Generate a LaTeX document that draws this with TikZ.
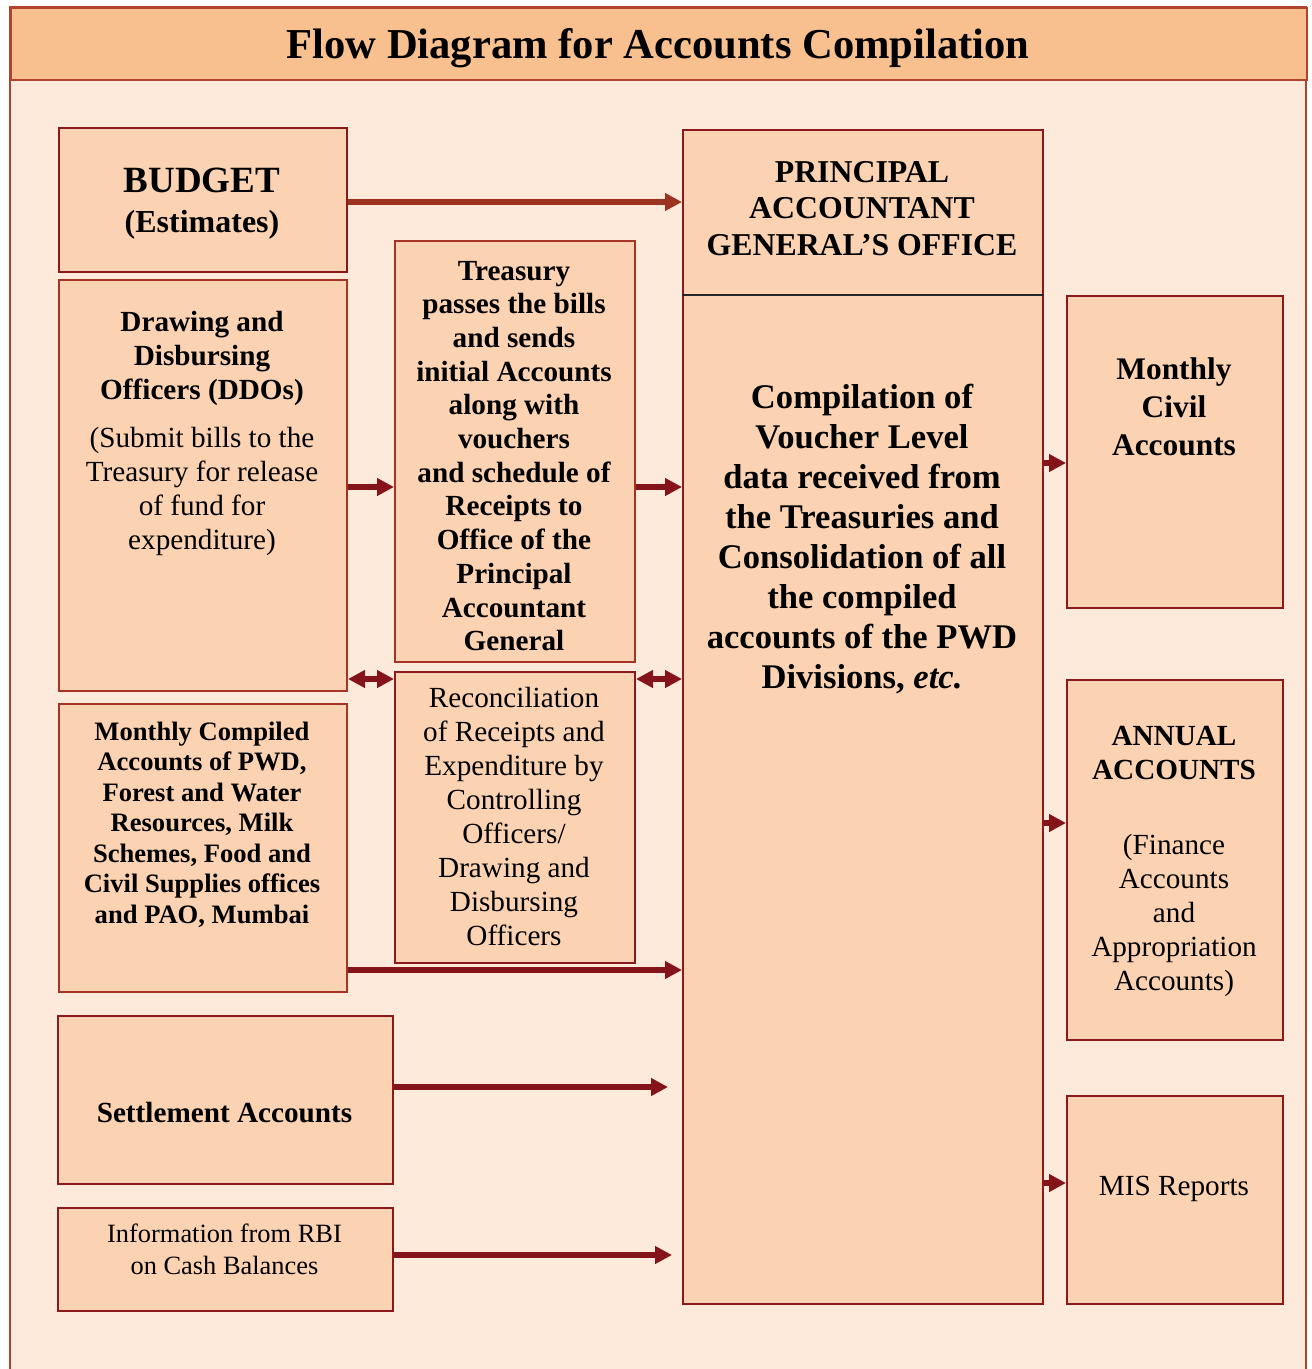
\documentclass[tikz,border=0pt]{standalone}
\usepackage{fontspec}
\setmainfont{Liberation Serif}
\usetikzlibrary{arrows.meta}
\definecolor{pagebg}{RGB}{253,234,218}
\definecolor{titlebg}{RGB}{249,192,143}
\definecolor{boxfill}{RGB}{251,211,178}
\definecolor{boxline}{RGB}{140,26,28}
\definecolor{boxlinelt}{RGB}{168,52,38}
\definecolor{arrowred}{RGB}{132,20,26}
\definecolor{arrowbrown}{RGB}{156,50,32}
\definecolor{framered}{RGB}{178,68,46}
\newcommand{\txtsize}{\fontsize{14.6}{17}\selectfont}

\begin{document}
\begin{tikzpicture}[
    x=0.5pt, y=-0.5pt,
    box/.style={draw=boxline, fill=boxfill, line width=1pt, inner sep=0pt, anchor=north west},
    boxlt/.style={box, draw=boxlinelt},
    txt/.style={align=center, inner sep=0pt, font=\txtsize},
    arrow/.style={-{Triangle[length=8.5pt,width=8.5pt]}, line width=2.6pt, draw=arrowred},
    darrow/.style={{Triangle[length=8.5pt,width=8.5pt]}-{Triangle[length=8.5pt,width=8.5pt]}, line width=2.6pt, draw=arrowred}
]
\useasboundingbox (0,0) rectangle (1311,1369);
\clip (0,0) rectangle (1311,1369);

% Frame and title
\fill[pagebg] (10,79) rectangle (1306,1400);
\draw[framered, line width=1pt] (10,1400) -- (10,7) -- (1306,7) -- (1306,1400);
\node[draw=framered, fill=titlebg, line width=1pt, anchor=north west,
      minimum width=648pt, minimum height=36pt, inner sep=0pt] (titlebar) at (10,7) {};
\node[txt, font=\bfseries\fontsize{21.3}{25}\selectfont] (title) at (658,48)
      {Flow Diagram for Accounts Compilation};

% Left column
\node[box, minimum width=144pt, minimum height=72pt] (budget) at (58,127) {};
\node[boxlt, minimum width=144pt, minimum height=205.5pt] (ddo) at (58,279) {};
\node[boxlt, minimum width=144pt, minimum height=144pt] (monthly) at (58,703) {};
\node[box, minimum width=167.5pt, minimum height=84pt] (settle) at (57,1015) {};
\node[box, minimum width=167.5pt, minimum height=51.5pt] (rbi) at (57,1207) {};

% Middle column
\node[boxlt, minimum width=120pt, minimum height=210.5pt] (treas) at (394,240) {};
\node[box, minimum width=120pt, minimum height=145.5pt] (recon) at (394,671) {};

% Principal Accountant General
\node[box, minimum width=180pt, minimum height=587pt] (pag) at (682,129) {};
\draw[line width=1pt, black!85] (pag.west |- 0,295) -- (pag.east |- 0,295);

% Right column
\node[box, minimum width=108pt, minimum height=156pt] (civil) at (1066,295) {};
\node[box, minimum width=108pt, minimum height=180pt] (annual) at (1066,679) {};
\node[box, minimum width=108pt, minimum height=104pt] (mis) at (1066,1095) {};

% Texts
\node[txt, font=\bfseries\fontsize{18.5}{20}\selectfont] (budgettxt) at (202,203.5)
    {BUDGET\\{\fontsize{16}{20}\selectfont (Estimates)}};
\node[txt] (ddotxt) at (202,433.5)
    {\textbf{Drawing and}\\\textbf{Disbursing}\\\textbf{Officers (DDOs)}\\[7pt]
     (Submit bills to the\\Treasury for release\\of fund for\\expenditure)};
\node[txt, font=\bfseries\fontsize{13.3}{15.25}\selectfont] (monthlytxt) at (202,824.5)
    {Monthly Compiled\\Accounts of PWD,\\Forest and Water\\Resources, Milk\\Schemes, Food and\\Civil Supplies offices\\and PAO, Mumbai};
\node[txt, font=\txtsize\bfseries] (settletxt) at (224.5,1113) {Settlement Accounts};
\node[txt, font=\fontsize{13.2}{16}\selectfont] (rbitxt) at (224.5,1249)
    {Information from RBI\\on Cash Balances};
\node[txt, font=\bfseries\fontsize{14.6}{16.85}\selectfont] (treastxt) at (514,456)
    {Treasury\\passes the bills\\and sends\\initial Accounts\\along with\\vouchers\\and schedule of\\Receipts to\\Office of the\\Principal\\Accountant\\General};
\node[txt] (recontxt) at (514,817)
    {Reconciliation\\of Receipts and\\Expenditure by\\Controlling\\Officers/\\Drawing and\\Disbursing\\Officers};
\node[txt, font=\bfseries\fontsize{15.9}{18.3}\selectfont] (pagtxt) at (862,208.5)
    {PRINCIPAL\\ACCOUNTANT\\GENERAL’S OFFICE};
\node[txt, font=\bfseries\fontsize{17.3}{20}\selectfont] (compiltxt) at (862,539)
    {Compilation of\\Voucher Level\\data received from\\the Treasuries and\\Consolidation of all\\the compiled\\accounts of the PWD\\Divisions, \textit{etc.}};
\node[txt, font=\bfseries\fontsize{15.7}{19}\selectfont] (civiltxt) at (1174,407)
    {Monthly\\Civil\\Accounts};
\node[txt] (annualtxt) at (1174,861.5)
    {\textbf{ANNUAL}\\\textbf{ACCOUNTS}\\[20.5pt]
     (Finance\\Accounts\\and\\Appropriation\\Accounts)};
\node[txt] (mistxt) at (1174,1189) {MIS Reports};

% Arrows
\draw[arrow, draw=arrowbrown] (budget.east |- 0,202) -- (pag.west |- 0,202);
\draw[arrow] (ddo.east |- 0,487) -- (treas.west |- 0,487);
\draw[arrow] (treas.east |- 0,487) -- (pag.west |- 0,487);
\draw[darrow] (ddo.east |- 0,679) -- (recon.west |- 0,679);
\draw[darrow] (recon.east |- 0,679) -- (pag.west |- 0,679);
\draw[arrow] (monthly.east |- 0,970) -- (pag.west |- 0,970);
\draw[arrow] (settle.east |- 0,1087) -- ([xshift=-7pt]pag.west |- 0,1087);
\draw[arrow] (rbi.east |- 0,1255) -- ([xshift=-5pt]pag.west |- 0,1255);
\draw[arrow] (pag.east |- 0,463) -- (civil.west |- 0,463);
\draw[arrow] (pag.east |- 0,823) -- (annual.west |- 0,823);
\draw[arrow] (pag.east |- 0,1183) -- (mis.west |- 0,1183);

\end{tikzpicture}
\end{document}
